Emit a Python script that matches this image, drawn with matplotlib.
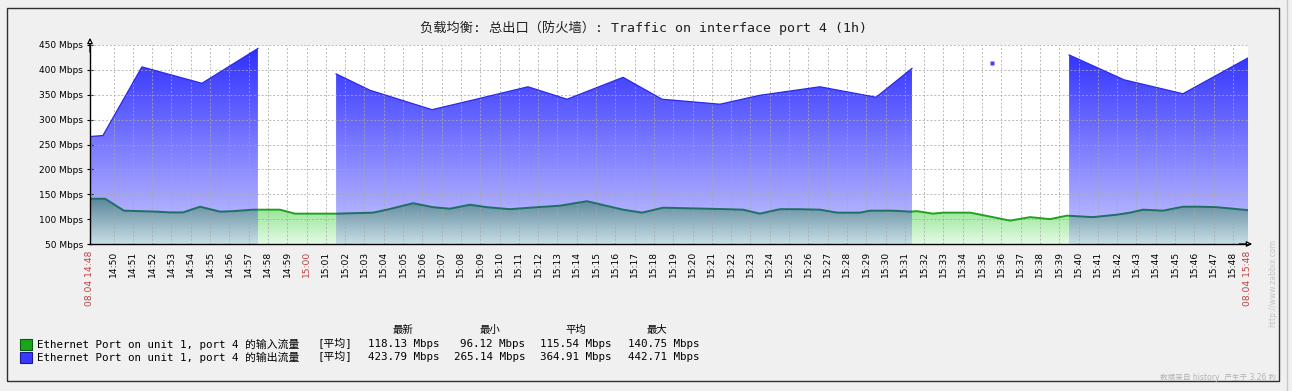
import numpy as np
import matplotlib.pyplot as plt
from matplotlib.colors import LinearSegmentedColormap
from matplotlib.patches import Rectangle
from matplotlib.lines import Line2D

plt.rcParams['font.family'] = ['DejaVu Sans', 'Noto Sans CJK SC']
MONO = ['DejaVu Sans Mono', 'Noto Sans CJK SC']

# time in minutes after 14:48, window 14:48:47 - 15:48:47
t_start = 0.78
t_end = 60.78

# input traffic (Mbps)
in_t = [0.78, 1.56, 2.54, 4.25, 4.93, 5.60, 6.48, 7.52, 8.19, 9.23, 10.62, 11.40,
        13.58, 15.44, 16.17, 17.52, 18.55, 19.43, 20.47, 21.35, 22.54, 23.94, 25.13,
        26.53, 28.40, 29.38, 30.47, 33.79, 34.61, 35.49, 36.53, 37.41, 38.60, 39.49,
        40.68, 41.19, 42.39, 43.27, 43.63, 44.46, 44.98, 46.38, 47.05, 48.45, 49.49,
        50.52, 51.40, 52.75, 54.00, 54.67, 55.34, 56.38, 57.41, 58.29, 59.17, 60.00, 60.78]
in_v = [141, 141, 117, 115, 113.5, 113.5, 125, 115, 116, 119, 119, 111,
        111, 113, 119, 132, 124, 121, 129, 124, 120, 124, 127,
        136, 119, 113, 123, 120, 119, 111, 120, 120, 119, 113,
        113, 117, 117, 115, 116, 111, 113, 113, 108, 97, 104,
        100, 107, 104, 109, 113, 119, 117, 125, 125, 124, 121, 118]

# output traffic (Mbps), nan = no data
out_t = [0.78, 1.45, 3.47, 6.58, 9.48, np.nan,
         13.53, 15.29, 18.50, 20.47, 23.47, 25.50, 28.40, 30.42, 33.42, 35.50, 38.60, 41.51, 43.37, np.nan,
         47.50, np.nan,
         51.51, 54.36, 57.41, 60.78]
out_v = [266, 268, 406, 373, 443, np.nan,
         392, 359, 320, 338, 366, 341, 385, 341, 331, 349, 366, 345, 403, np.nan,
         414, np.nan,
         430, 380, 352, 424]

y_ticks = [50, 100, 150, 200, 250, 300, 350, 400, 450]

title = '负载均衡: 总出口（防火墙）: Traffic on interface port 4 (1h)'
legend_names = ['Ethernet Port on unit 1, port 4 的输入流量',
                'Ethernet Port on unit 1, port 4 的输出流量']
stat_heads = ['最新', '最小', '平均', '最大']
stat_in = ['118.13 Mbps', '96.12 Mbps', '115.54 Mbps', '140.75 Mbps']
stat_out = ['423.79 Mbps', '265.14 Mbps', '364.91 Mbps', '442.71 Mbps']

W, H = 1292, 391


def fx(px):
    return px / W


def fy(py):
    return 1 - py / H


fig = plt.figure(figsize=(W / 100, H / 100), dpi=100)
fig.patch.set_facecolor('#f0f0f0')
fig.patches.append(Rectangle((fx(7), fy(381)), fx(1279) - fx(7), fy(8) - fy(381),
                             transform=fig.transFigure, fill=False, ec='#303030', lw=1))
fig.lines.append(Line2D([fx(1287), fx(1287)], [0, 1], transform=fig.transFigure,
                        color='#c8c8c8', lw=1))

ax = fig.add_axes([fx(90), fy(244), (1248 - 90) / W, (244 - 45) / H])
ax.set_facecolor('white')


def grad_fill(t, v, c_top, c_bot, v_top, z):
    coll = ax.fill_between(t, v, 50, color='none', lw=0)
    path = coll.get_paths()[0]
    cmap = LinearSegmentedColormap.from_list('g', [c_bot, c_top])
    im = ax.imshow(np.linspace(0, 1, 256).reshape(-1, 1), cmap=cmap, origin='lower',
                   extent=[t[0], t[-1], 50, v_top], aspect='auto', zorder=z,
                   interpolation='bilinear')
    im.set_clip_path(path, transform=ax.transData)


def cut(t, v, a, b):
    t = np.asarray(t)
    v = np.asarray(v)
    m = (t > a) & (t < b)
    tt = np.concatenate([[a], t[m], [b]])
    vv = np.concatenate([[np.interp(a, t, v)], v[m], [np.interp(b, t, v)]])
    return tt, vv


# split output into segments
ot = np.array(out_t)
ov = np.array(out_v)
breaks = np.where(np.isnan(ot))[0]
segs = []
start = 0
for b in list(breaks) + [len(ot)]:
    segs.append((ot[start:b], ov[start:b]))
    start = b + 1

ranges = []
for st, sv in segs:
    if len(st) > 1:
        grad_fill(st, sv, (45/255, 45/255, 1), (200/255, 200/255, 1), 450, 1)
        ax.plot(st, sv, color='#2a2ae8', lw=0.9, zorder=4)
        ranges.append((st[0], st[-1]))
    else:
        ax.plot(st, sv, 's', ms=2.2, color='#4040ff', mec='none', zorder=4)

# input series: overlapped parts (teal) and free parts (green)
free = []
prev = t_start
for a, b in ranges:
    if a > prev:
        free.append((prev, a))
    prev = b
if prev < t_end:
    free.append((prev, t_end))

for a, b in ranges:
    tt, vv = cut(in_t, in_v, a, b)
    grad_fill(tt, vv, (80/255, 126/255, 148/255), (200/255, 222/255, 230/255), 150, 2)
    ax.plot(tt, vv, color='#1f6f64', lw=1.4, zorder=4, solid_capstyle='butt')
for a, b in free:
    tt, vv = cut(in_t, in_v, a, b)
    grad_fill(tt, vv, (120/255, 222/255, 120/255), (228/255, 250/255, 228/255), 150, 2)
    ax.plot(tt, vv, color='#22a022', lw=1.4, zorder=4, solid_capstyle='butt')

# grid
minutes = list(range(2, 61))
ax.vlines(minutes, 50, 450, colors='#a8a8a8', linestyles=(0, (2, 2)), lw=0.7, alpha=0.8, zorder=3)
ax.hlines(y_ticks, t_start, t_end, colors='#a8a8a8', linestyles=(0, (2, 2)), lw=0.7, alpha=0.8, zorder=3)

ax.set_xlim(t_start, t_end)
ax.set_ylim(50, 450)

# ticks
ax.set_yticks(y_ticks)
ax.set_yticklabels([f'{v} Mbps' for v in y_ticks], fontsize=6.5)
ax.tick_params(axis='y', length=4, direction='inout', width=0.8, pad=3)

xt = [t_start] + minutes + [t_end]
xl = ['08.04 14:48'] + [f'{14 + (48 + m) // 60}:{(48 + m) % 60:02d}' for m in minutes] + ['08.04 15:48']
ax.set_xticks(xt)
ax.set_xticklabels(xl, rotation=90, fontsize=6.6)
ax.tick_params(axis='x', length=0, pad=5)
for lab in ax.get_xticklabels():
    if lab.get_text() in ('08.04 14:48', '08.04 15:48', '15:00'):
        lab.set_color('#c04040')

for s in ['top', 'right']:
    ax.spines[s].set_visible(False)
for s in ['left', 'bottom']:
    ax.spines[s].set_color('black')
    ax.spines[s].set_linewidth(1)
    ax.spines[s].set_zorder(5)

ax.annotate('', xy=(0, 1.05), xytext=(0, 0.95), xycoords='axes fraction',
            arrowprops=dict(arrowstyle='-|>', fc='white', ec='black', lw=0.9, mutation_scale=8),
            annotation_clip=False)
ax.annotate('', xy=(1.006, 0), xytext=(0.99, 0), xycoords='axes fraction',
            arrowprops=dict(arrowstyle='-|>', fc='white', ec='black', lw=0.9, mutation_scale=8),
            annotation_clip=False)

# title
fig.text(fx(643), fy(28), title, ha='center', va='center', fontsize=9.5, family=MONO, color='#202020')

# legend
heads_x = [403, 490, 576, 657]
ends_x = [440, 525, 612, 700]
for hx, h in zip(heads_x, stat_heads):
    fig.text(fx(hx), fy(330), h, ha='center', va='center', fontsize=7.5, family=MONO)
rows = [(344, legend_names[0], stat_in, '#1aa61a', '#0b5a0b'),
        (357, legend_names[1], stat_out, '#3a3aff', '#1a1a90')]
for ry, name, stats, fc, ec in rows:
    fig.patches.append(Rectangle((fx(20), fy(ry + 6)), 12 / W, 11 / H, transform=fig.transFigure,
                                 fc=fc, ec=ec, lw=0.8))
    fig.text(fx(37), fy(ry), name, ha='left', va='center', fontsize=7.8, family=MONO)
    fig.text(fx(318), fy(ry), '[平均]', ha='left', va='center', fontsize=7.8, family=MONO)
    for ex, s in zip(ends_x, stats):
        fig.text(fx(ex), fy(ry), s, ha='right', va='center', fontsize=7.8, family=MONO)

fig.text(fx(1273), fy(283), 'http://www.zabbix.com', rotation=90, ha='center', va='center',
         fontsize=5.5, color='#c4c4c4')
fig.text(fx(1276), fy(377), '数据来自 history  产生于 3.26 秒', ha='right', va='center',
         fontsize=5.5, color='#b4b4b4')

fig.savefig('out.png', dpi=100, facecolor=fig.get_facecolor())
